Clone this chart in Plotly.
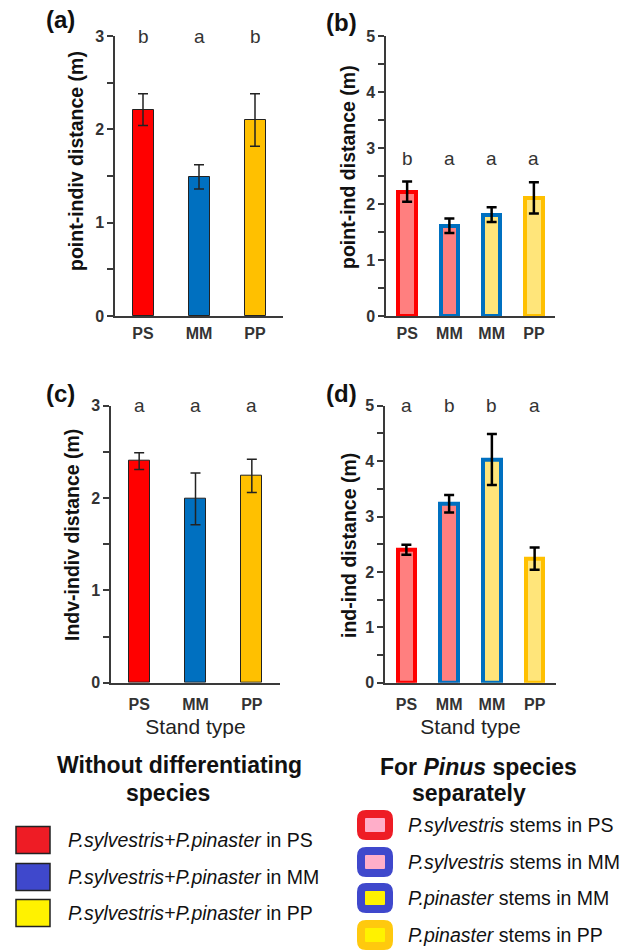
import plotly.graph_objects as go

# ---------------- data ----------------
cats_a = ["PS", "MM", "PP"]
vals_a = [2.21, 1.49, 2.10]
err_a = [0.17, 0.13, 0.28]
letters_a = ["b", "a", "b"]

cats_b = ["PS", "MM", "MM", "PP"]
vals_b = [2.22, 1.61, 1.81, 2.11]
err_b = [0.18, 0.13, 0.13, 0.28]
letters_b = ["b", "a", "a", "a"]

cats_c = ["PS", "MM", "PP"]
vals_c = [2.40, 1.99, 2.24]
err_c = [0.09, 0.28, 0.18]
letters_c = ["a", "a", "a"]

cats_d = ["PS", "MM", "MM", "PP"]
vals_d = [2.40, 3.23, 4.03, 2.24]
err_d = [0.09, 0.16, 0.46, 0.20]
letters_d = ["a", "b", "b", "a"]

ticks3 = [0, 0.5, 1, 1.5, 2, 2.5, 3]
ticks3_text = ["0", "", "1", "", "2", "", "3"]
ticks5 = [0, 0.5, 1, 1.5, 2, 2.5, 3, 3.5, 4, 4.5, 5]
ticks5_text = ["0", "", "1", "", "2", "", "3", "", "4", "", "5"]

ytitle_a = "point-indiv distance (m)"
ytitle_b = "point-ind distance (m)"
ytitle_c = "Indv-indiv distance (m)"
ytitle_d = "ind-ind distance (m)"
xtitle = "Stand type"

legend_left_title = ["Without differentiating", "species"]
legend_left_items = ["<i>P.sylvestris+P.pinaster</i> in PS",
                     "<i>P.sylvestris+P.pinaster</i> in MM",
                     "<i>P.sylvestris+P.pinaster</i> in PP"]
legend_right_title = ["For <i>Pinus</i> species", "separately"]
legend_right_items = ["<i>P.sylvestris</i> stems in PS",
                      "<i>P.sylvestris</i> stems in MM",
                      "<i>P.pinaster</i> stems in MM",
                      "<i>P.pinaster</i> stems in PP"]

# ---------------- styles ----------------
W, H = 635, 950
FONT = "Liberation Sans, Arial, sans-serif"
AX = "#3a3a3a"
solid_colors = ["#FF0000", "#0070C0", "#FFC000"]
sep_fill = ["#FF7F7F", "#FF7F7F", "#FFE57A", "#FFE57A"]
sep_line = ["#FF0000", "#0070C0", "#0070C0", "#FFC000"]
leg_left_colors = ["#EE1C25", "#3F48CC", "#FFF200"]
leg_right_fill = ["#FFAEC9", "#FFAEC9", "#FFF200", "#FFF200"]
leg_right_line = ["#EE1C25", "#3F48CC", "#3F48CC", "#FFC90E"]


def px(x):
    return x / W


def py(y):
    return 1 - y / H


fig = go.Figure()

# panel a
fig.add_trace(go.Bar(x=list(range(len(cats_a))), y=vals_a, width=0.375,
                     marker=dict(color=solid_colors, line=dict(color="#222", width=1)),
                     error_y=dict(type="data", array=err_a, color="#222", thickness=1.5, width=5),
                     xaxis="x", yaxis="y", showlegend=False))
# panel b
fig.add_trace(go.Bar(x=list(range(len(cats_b))), y=vals_b, width=0.41,
                     marker=dict(color=sep_fill, line=dict(color=sep_line, width=4)),
                     error_y=dict(type="data", array=err_b, color="#000", thickness=2.5, width=5),
                     xaxis="x2", yaxis="y2", showlegend=False))
# panel c
fig.add_trace(go.Bar(x=list(range(len(cats_c))), y=vals_c, width=0.375,
                     marker=dict(color=solid_colors, line=dict(color="#222", width=1)),
                     error_y=dict(type="data", array=err_c, color="#222", thickness=1.5, width=5),
                     xaxis="x3", yaxis="y3", showlegend=False))
# panel d
fig.add_trace(go.Bar(x=list(range(len(cats_d))), y=vals_d, width=0.41,
                     marker=dict(color=sep_fill, line=dict(color=sep_line, width=4)),
                     error_y=dict(type="data", array=err_d, color="#000", thickness=2.5, width=5),
                     xaxis="x4", yaxis="y4", showlegend=False))

tickfont = dict(family=FONT, size=16, color="#333", weight="bold")


def xax(domain, cats, anchor, title=None, lab_gap=2):
    d = dict(domain=domain, range=[-0.5, len(cats) - 0.5], anchor=anchor,
             showline=True, linecolor=AX, linewidth=1.5, ticks="",
             tickvals=list(range(len(cats))), ticktext=cats, tickfont=tickfont,
             ticklabelstandoff=lab_gap, automargin=False,
             showgrid=False, zeroline=False, fixedrange=True)
    if title:
        d["title"] = dict(text=title, font=dict(family=FONT, size=21, color="#222"), standoff=8)
    return d


def yax(domain, rng, tv, tt, anchor):
    return dict(domain=domain, range=rng, anchor=anchor, showline=True, linecolor=AX,
                linewidth=1.5, ticks="outside", ticklen=6, tickcolor=AX, tickwidth=1.5,
                tickvals=tv, ticktext=tt, tickfont=tickfont, showgrid=False, zeroline=False,
                automargin=False, fixedrange=True)


top_dom = [py(316), py(36)]
bot_dom = [py(682.7), py(405.7)]

fig.update_layout(
    xaxis=xax([px(115), px(283)], cats_a, "y"),
    yaxis=yax(top_dom, [0, 3], ticks3, ticks3_text, "x"),
    xaxis2=xax([px(386), px(555)], cats_b, "y2"),
    yaxis2=yax(top_dom, [0, 5], ticks5, ticks5_text, "x2"),
    xaxis3=xax([px(111), px(280)], cats_c, "y3", xtitle, lab_gap=6),
    yaxis3=yax(bot_dom, [0, 3], ticks3, ticks3_text, "x3"),
    xaxis4=xax([px(385), px(556)], cats_d, "y4", xtitle, lab_gap=6),
    yaxis4=yax(bot_dom, [0, 5], ticks5, ticks5_text, "x4"),
)

annotations = []

# y-axis titles (rotated)
ytitle_font = dict(family=FONT, size=19.5, color="#111", weight="bold")
for txt, x, y in [(ytitle_a, 76, 161), (ytitle_b, 348, 167),
                  (ytitle_c, 72, 535), (ytitle_d, 349, 546)]:
    annotations.append(dict(x=px(x), y=py(y), xref="paper", yref="paper", text=txt,
                            textangle=-90, showarrow=False, font=ytitle_font,
                            xanchor="center", yanchor="middle"))

letter_font = dict(family=FONT, size=19, color="#333")
for i, t in enumerate(letters_a):
    annotations.append(dict(x=i, y=3.0, xref="x", yref="y", text=t, showarrow=False, font=letter_font))
for i, t in enumerate(letters_b):
    annotations.append(dict(x=i, y=2.82, xref="x2", yref="y2", text=t, showarrow=False, font=letter_font))
for i, t in enumerate(letters_c):
    annotations.append(dict(x=i, y=3.0, xref="x3", yref="y3", text=t, showarrow=False, font=letter_font))
for i, t in enumerate(letters_d):
    annotations.append(dict(x=i, y=5.0, xref="x4", yref="y4", text=t, showarrow=False, font=letter_font))

panel_font = dict(family=FONT, size=24, color="#111", weight="bold")
for lab, x, y in [("(a)", 60, 20), ("(b)", 341, 22), ("(c)", 60, 393), ("(d)", 341, 393)]:
    annotations.append(dict(x=px(x), y=py(y), xref="paper", yref="paper", text=lab,
                            showarrow=False, font=panel_font, xanchor="center", yanchor="middle"))

head_font = dict(family=FONT, size=23, color="#111", weight="bold")
for txt, x, y in [(legend_left_title[0], 179, 765), (legend_left_title[1], 168, 793),
                  (legend_right_title[0], 478, 767), (legend_right_title[1], 469, 793)]:
    annotations.append(dict(x=px(x), y=py(y), xref="paper", yref="paper", text=txt,
                            showarrow=False, font=head_font, xanchor="center", yanchor="middle"))

item_font = dict(family=FONT, size=19.5, color="#111")
shapes = []
left_rows = [840, 877, 913]
for i, (txt, col) in enumerate(zip(legend_left_items, leg_left_colors)):
    cy = left_rows[i]
    shapes.append(dict(type="rect", xref="paper", yref="paper", x0=px(16), x1=px(50),
                       y0=py(cy + 13.5), y1=py(cy - 13.5), fillcolor=col,
                       line=dict(color="#222", width=1.5)))
    annotations.append(dict(x=px(66), y=py(cy), xref="paper", yref="paper", text=txt,
                            showarrow=False, font=item_font, xanchor="left", yanchor="middle"))


def rounded(x0, y0, x1, y1, r):
    X = lambda v: f"{px(v):.5f}"
    Y = lambda v: f"{py(v):.5f}"
    return (f"M {X(x0 + r)},{Y(y0)} L {X(x1 - r)},{Y(y0)} Q {X(x1)},{Y(y0)} {X(x1)},{Y(y0 + r)} "
            f"L {X(x1)},{Y(y1 - r)} Q {X(x1)},{Y(y1)} {X(x1 - r)},{Y(y1)} "
            f"L {X(x0 + r)},{Y(y1)} Q {X(x0)},{Y(y1)} {X(x0)},{Y(y1 - r)} "
            f"L {X(x0)},{Y(y0 + r)} Q {X(x0)},{Y(y0)} {X(x0 + r)},{Y(y0)} Z")


right_rows = [825, 862, 898, 935]
for i, txt in enumerate(legend_right_items):
    cy = right_rows[i]
    shapes.append(dict(type="path", xref="paper", yref="paper",
                       path=rounded(361, cy - 11, 389, cy + 11, 5),
                       fillcolor=leg_right_fill[i], line=dict(color=leg_right_line[i], width=8)))
    annotations.append(dict(x=px(406), y=py(cy), xref="paper", yref="paper", text=txt,
                            showarrow=False, font=item_font, xanchor="left", yanchor="middle"))

fig.update_layout(width=W, height=H, autosize=False, margin=dict(l=0, r=0, t=0, b=0, pad=0),
                  paper_bgcolor="white", plot_bgcolor="white", bargap=0,
                  annotations=annotations, shapes=shapes, font=dict(family=FONT))

fig.write_html("out.html")
